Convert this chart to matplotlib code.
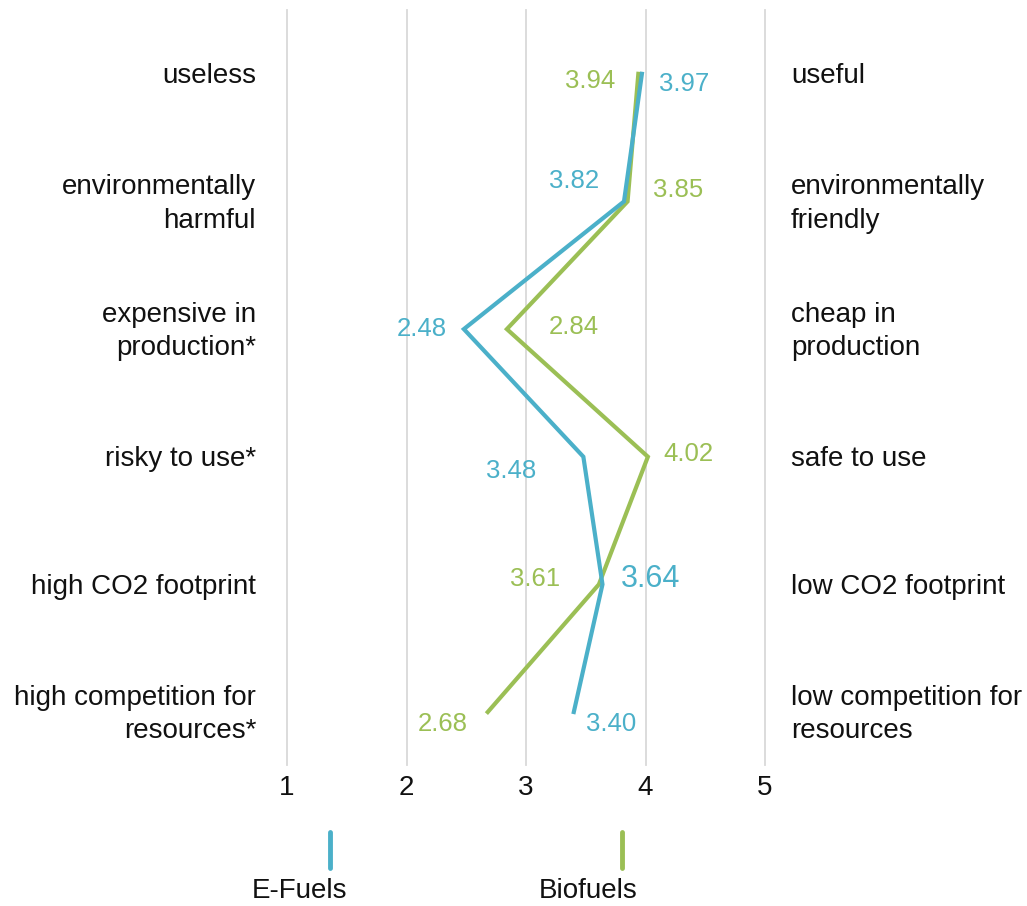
import matplotlib
matplotlib.use('Agg')
import matplotlib.pyplot as plt
import matplotlib.transforms as mtransforms
from matplotlib.lines import Line2D

plt.rcParams['font.family'] = ['Liberation Sans', 'DejaVu Sans']

BLUE  = '#4bb0c9'
GREEN = '#9bbf55'
GRID  = '#d9d9d9'
INK   = '#111111'

left_labels  = ['useless', 'environmentally\nharmful', 'expensive in\nproduction*',
                'risky to use*', 'high CO2 footprint', 'high competition for\nresources*']
right_labels = ['useful', 'environmentally\nfriendly', 'cheap in\nproduction',
                'safe to use', 'low CO2 footprint', 'low competition for\nresources']
efuels   = [3.97, 3.82, 2.48, 3.48, 3.64, 3.40]
biofuels = [3.94, 3.85, 2.84, 4.02, 3.61, 2.68]
ticks    = [1, 2, 3, 4, 5]

# label offsets in pixels (hand placed to match)
e_off = [(42, -10), (-50, 20), (-42, 0), (-72, -14), (48, 5), (37, -12)]
b_off = [(-48, -7), (51, 11), (67, 2), (41, 3), (-64, 5), (-45, -12)]
e_size = [18.5, 18.5, 18.5, 18.5, 22, 18.5]

W, H = 1027, 906
fig = plt.figure(figsize=(W / 100, H / 100), dpi=100, facecolor='white')
ax = fig.add_axes([287 / W, 1 - 765 / H, (765 - 287) / W, (765 - 10) / H])
rows = list(range(len(left_labels)))
ax.set_xlim(1, 5)
ax.set_ylim(5.415, -0.50)
for s in ax.spines.values():
    s.set_visible(False)
ax.set_yticks([])
ax.set_xticks(ticks)
ax.set_xticklabels([str(t) for t in ticks], fontsize=20, color=INK)
ax.tick_params(axis='x', length=0, pad=7)
for t in ticks:
    ax.axvline(t, color=GRID, lw=1.3, zorder=0, clip_on=False)

ax.plot(biofuels, rows, color=GREEN, lw=3, solid_joinstyle='miter', zorder=3)
ax.plot(efuels, rows, color=BLUE, lw=3, solid_joinstyle='miter', zorder=4)

for v, r, (dx, dy), fs in zip(efuels, rows, e_off, e_size):
    ax.annotate(f'{v:.2f}', (v, r), xytext=(dx, dy), textcoords='offset pixels',
                ha='center', va='center', fontsize=fs, color=BLUE)
for v, r, (dx, dy) in zip(biofuels, rows, b_off):
    ax.annotate(f'{v:.2f}', (v, r), xytext=(dx, dy), textcoords='offset pixels',
                ha='center', va='center', fontsize=18.5, color=GREEN)

# side labels
tr = mtransforms.blended_transform_factory(fig.transFigure, ax.transData)
tr = tr + mtransforms.ScaledTranslation(0, -2.5 / 100, fig.dpi_scale_trans)
for r, lab in zip(rows, left_labels):
    ax.text(256 / W, r, lab, transform=tr, ha='right', va='center',
            fontsize=20, color=INK, linespacing=1.38)
for r, lab in zip(rows, right_labels):
    ax.text(791 / W, r, lab, transform=tr, ha='left', va='center',
            fontsize=20, color=INK, linespacing=1.38)

# legend
for xl, xt, col, name in [(330, 300, BLUE, 'E-Fuels'), (622, 588, GREEN, 'Biofuels')]:
    fig.add_artist(Line2D([xl / W, xl / W], [1 - 832 / H, 1 - 868 / H],
                          transform=fig.transFigure, color=col, lw=3.5,
                          solid_capstyle='round'))
    fig.text(xt / W, 1 - 891 / H, name, ha='center', va='center', fontsize=20, color=INK)

fig.savefig('out.png', dpi=100, facecolor='white')
